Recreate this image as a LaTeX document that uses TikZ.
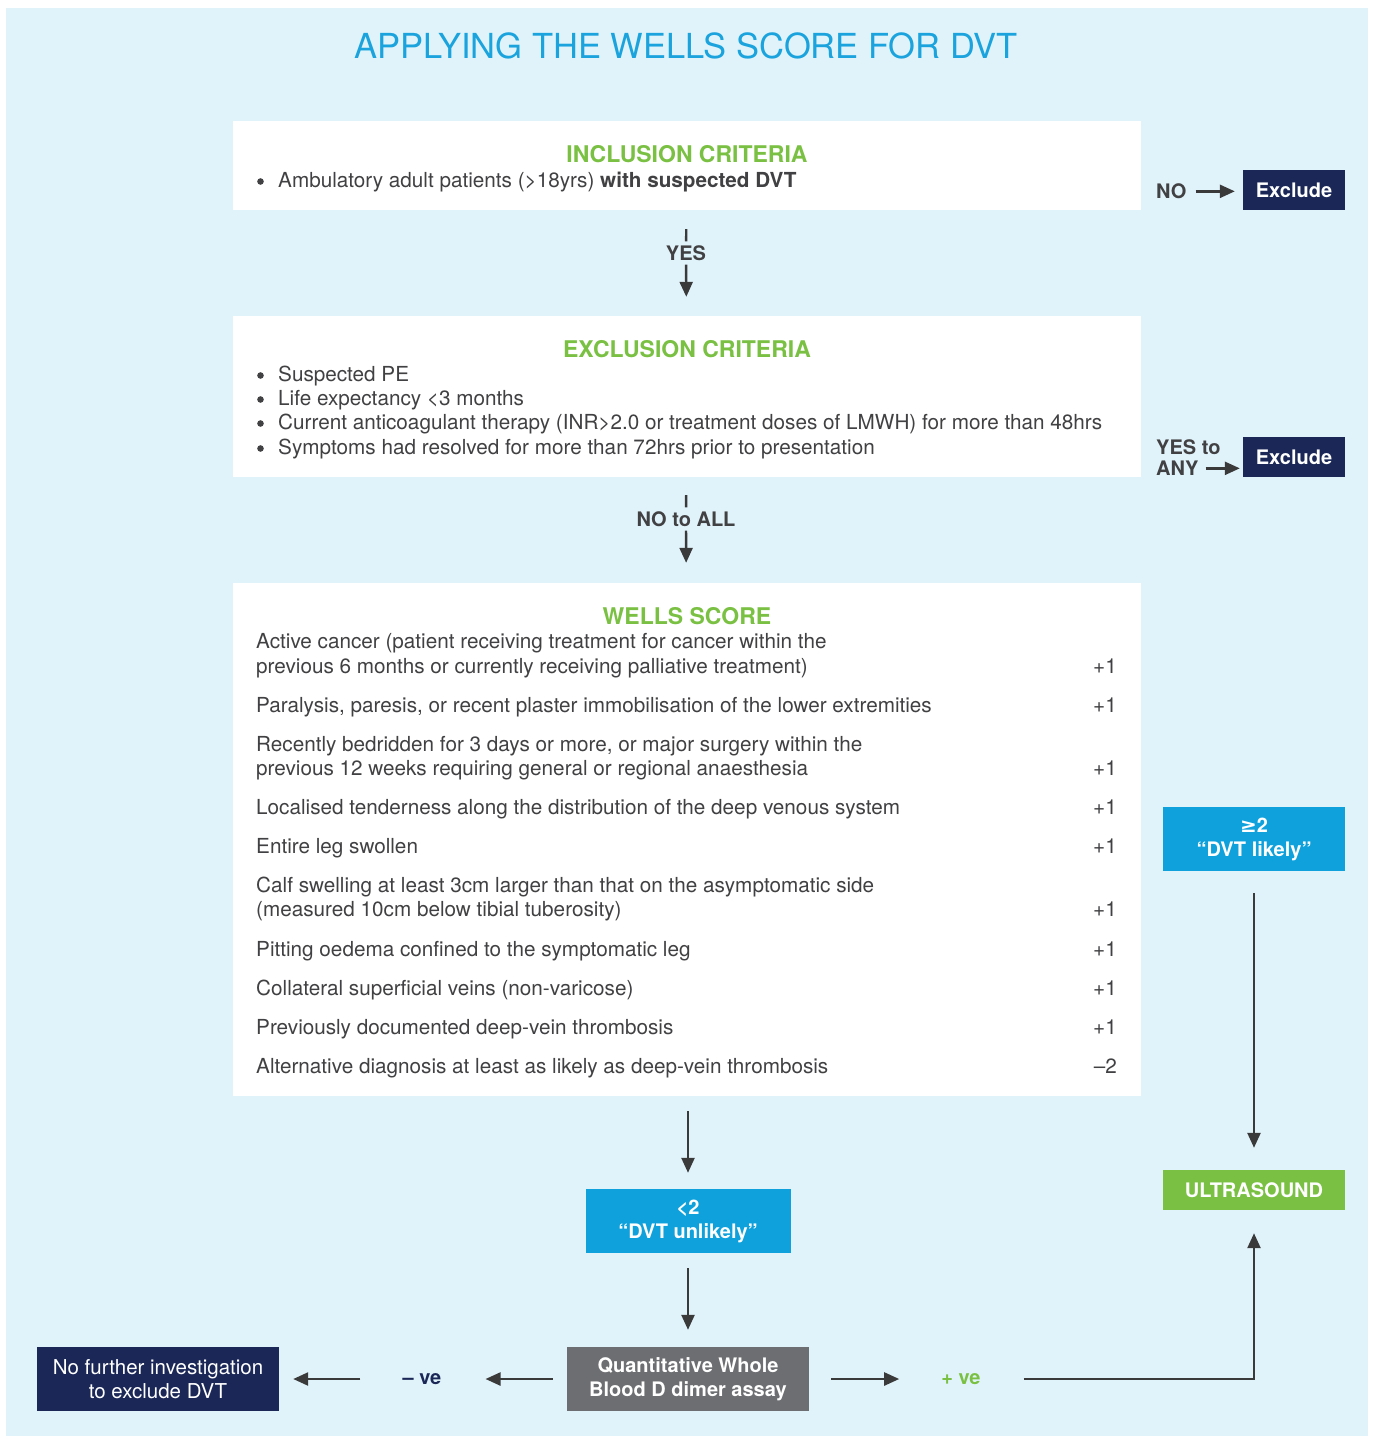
\documentclass[tikz,border=0pt]{standalone}
\usepackage{fontspec}
\setmainfont{TeX Gyre Heros}
\newfontfamily\symfont{DejaVu Sans}
\usepackage{tikz}
\usetikzlibrary{arrows.meta, positioning}

\definecolor{bgblue}{HTML}{E0F3FA}
\definecolor{titleblue}{HTML}{1AA3DD}
\definecolor{critgreen}{HTML}{7AC143}
\definecolor{navy}{HTML}{1A2757}
\definecolor{cyanbox}{HTML}{0EA1DC}
\definecolor{assaygray}{HTML}{6D6E71}
\definecolor{textgray}{HTML}{414042}
\definecolor{linegray}{HTML}{3A3A3A}

\tikzstyle{panel} = [fill=white, minimum width=908pt, inner sep=0pt]
\tikzstyle{header} = [text=critgreen, font=\fontsize{23}{26}\selectfont\bfseries, inner sep=0pt]
\tikzstyle{item} = [text=textgray, font=\fontsize{20.7}{24}\selectfont, anchor=mid west, inner sep=0pt, yshift=-5pt]
\tikzstyle{score} = [text=textgray, font=\fontsize{20.7}{24}\selectfont, anchor=mid east, inner sep=0pt, yshift=-5pt]
\tikzstyle{answer} = [text=textgray, font=\fontsize{20}{21}\selectfont\bfseries, inner sep=0pt, align=left]
\tikzstyle{outcome} = [text=white, font=\fontsize{20}{24}\selectfont\bfseries, align=center, inner sep=0pt]
\tikzstyle{arrow} = [line width=2.4pt, draw=linegray, -{Triangle[length=15pt,width=13pt]}]
\tikzstyle{plain} = [line width=2.4pt, draw=linegray]
\tikzstyle{dot} = [fill=textgray]

\begin{document}
\begin{tikzpicture}[x=1pt, y=-1pt]
    \useasboundingbox (0,0) rectangle (1373,1436);
    \fill[bgblue] (6,8) rectangle (1368,1436);

    % Title
    \node[text=titleblue, font=\fontsize{34.5}{40}\selectfont, inner sep=0pt] (title) at (686,46) {APPLYING THE WELLS SCORE FOR DVT};

    % Inclusion criteria
    \node[panel, minimum height=89pt] (incl) at (687,165.5) {};
    \node[header] (inclhead) at (687,154) {INCLUSION CRITERIA};
    \node[item] (incl1) at (278,180) {Ambulatory adult patients (>18yrs) \textbf{with suspected DVT}};
    \fill[dot] ([xshift=-17.5pt, yshift=3.5pt]incl1.mid west) circle (3.3pt);

    % Exclusion criteria
    \node[panel, minimum height=161pt] (excl) at (687,396.5) {};
    \node[header] (exclhead) at (687,349) {EXCLUSION CRITERIA};
    \foreach \y/\t [count=\i] in {374/Suspected PE,
                                  398/Life expectancy <3 months,
                                  422/Current anticoagulant therapy (INR>2.0 or treatment doses of LMWH) for more than 48hrs,
                                  447/Symptoms had resolved for more than 72hrs prior to presentation}
    {
        \node[item] (ex\i) at (278,\y) {\t};
        \fill[dot] ([xshift=-17.5pt, yshift=3.5pt]ex\i.mid west) circle (3.3pt);
    }

    % Wells score
    \node[panel, minimum height=513pt] (wells) at (687,839.5) {};
    \node[header] (wellshead) at (687,616) {WELLS SCORE};
    \foreach \y/\t [count=\i] in {641/Active cancer (patient receiving treatment for cancer within the,
                                  666/previous 6 months or currently receiving palliative treatment),
                                  705/{Paralysis, paresis, or recent plaster immobilisation of the lower extremities},
                                  744/{Recently bedridden for 3 days or more, or major surgery within the},
                                  768/previous 12 weeks requiring general or regional anaesthesia,
                                  807/Localised tenderness along the distribution of the deep venous system,
                                  846/Entire leg swollen,
                                  885/Calf swelling at least 3cm larger than that on the asymptomatic side,
                                  909/(measured 10cm below tibial tuberosity),
                                  949/Pitting oedema confined to the symptomatic leg,
                                  988/Collateral superficial veins (non-varicose),
                                  1027/Previously documented deep-vein thrombosis,
                                  1066/Alternative diagnosis at least as likely as deep-vein thrombosis}
    \node[item] (w\i) at (256,\y) {\t};
    \foreach \y/\s [count=\i] in {666/+1, 705/+1, 768/+1, 807/+1, 846/+1, 909/+1, 949/+1, 988/+1, 1027/+1, 1066/\textendash2}
    \node[score] (s\i) at (1117,\y) {\s};

    % Answers between panels
    \node[answer, inner sep=4pt] (yes) at (686,253) {YES};
    \node[answer, inner sep=4pt] (noall) at (686,519) {NO to ALL};
    \draw[plain, shorten <=19pt] (incl) -- (yes);
    \draw[arrow, shorten >=19pt] (yes) -- (excl);
    \draw[plain, shorten <=18pt] (excl) -- (noall);
    \draw[arrow, shorten >=20pt] (noall) -- (wells);

    % Exclude boxes
    \node[outcome, fill=navy, minimum width=102pt, minimum height=40pt] (out1) at (1294,190) {Exclude};
    \node[outcome, fill=navy, minimum width=102pt, minimum height=40pt] (out2) at (1294,457) {Exclude};
    \node[answer, anchor=mid west, yshift=-5pt] (no) at (1156,191) {NO};
    \node[answer, anchor=mid west, yshift=-5pt] (yesto) at (1156,447) {YES to};
    \node[answer, anchor=mid west, yshift=-5pt] (any) at (1156,468) {ANY};
    \draw[arrow, shorten <=9pt, shorten >=8pt] (no.east) -- (no.east -| out1.west);
    \draw[arrow, shorten <=7pt, shorten >=3pt] (any.east) -- (any.east -| out2.west);

    % Score outcomes
    \node[outcome, fill=cyanbox, minimum width=182pt, minimum height=64pt] (likely) at (1254,839) {{\symfont ≥}2\\“DVT likely”};
    \node[outcome, fill=critgreen, minimum width=182pt, minimum height=40pt] (ultra) at (1254,1190) {ULTRASOUND};
    \node[outcome, fill=cyanbox, minimum width=205pt, minimum height=64pt] (unlikely) at (688,1221) {<2\\“DVT unlikely”};
    \node[outcome, fill=assaygray, minimum width=242pt, minimum height=64pt] (assay) at (688,1379) {Quantitative Whole\\Blood D dimer assay};
    \node[outcome, fill=navy, minimum width=242pt, minimum height=64pt, font=\fontsize{20.5}{24}\selectfont] (nofurther) at (158,1379) {No further investigation\\to exclude DVT};
    \node[answer, text=navy] (neg) at (422,1379) {\textendash\ ve};
    \node[answer, text=critgreen] (pos) at (961,1379) {+ ve};

    \draw[arrow, shorten <=22pt, shorten >=22pt] (likely) -- (ultra);
    \draw[arrow, shorten <=15pt, shorten >=16pt] (wells.south -| unlikely) -- (unlikely);
    \draw[arrow, shorten <=15pt, shorten >=17pt] (unlikely) -- (assay);
    \draw[arrow, shorten <=14pt, shorten >=44pt] (assay) -- (neg);
    \draw[arrow, shorten <=42pt, shorten >=14pt] (neg) -- (nofurther);
    \draw[arrow, shorten <=22pt, shorten >=42pt] (assay) -- (pos);
    \draw[arrow, shorten <=43pt, shorten >=23pt] (pos.east) -| (ultra.south);
\end{tikzpicture}
\end{document}
